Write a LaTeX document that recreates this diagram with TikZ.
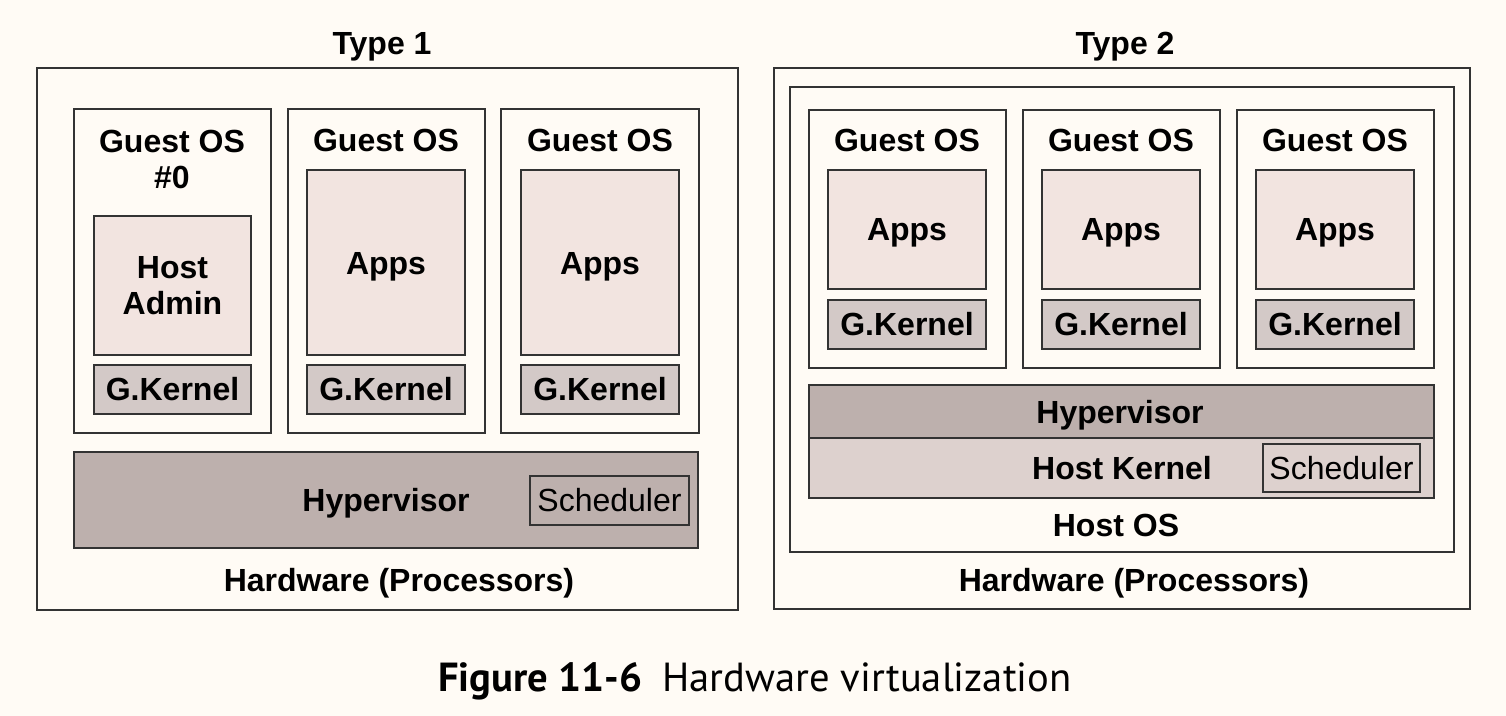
\documentclass[tikz,border=0pt]{standalone}
\usepackage{fontspec}
\setmainfont{Liberation Sans}
\newfontfamily\capfont{PT Sans}
\usetikzlibrary{fit}
\definecolor{bg}{HTML}{FFFBF5}
\definecolor{appfill}{HTML}{F2E4E0}
\definecolor{gkfill}{HTML}{D3C9C7}
\definecolor{hypfill}{HTML}{BDB0AD}
\definecolor{hkfill}{HTML}{DDD1CE}
\definecolor{edge}{HTML}{333333}
\tikzset{
  frame/.style={draw=edge, line width=1.1pt, inner sep=0pt},
  whitebox/.style={frame, fill=bg},
  appbox/.style={frame, fill=appfill},
  gkbox/.style={frame, fill=gkfill},
  hypbox/.style={frame, fill=hypfill},
  hkbox/.style={frame, fill=hkfill},
  lbl/.style={font=\fontsize{16}{19}\selectfont\bfseries, text=black, align=center, inner sep=0pt},
  one/.style={text height=11.5pt, text depth=0pt},
  lblr/.style={font=\fontsize{16}{19}\selectfont, text=black, inner sep=0pt, text height=11.5pt, text depth=0pt},
}
\begin{document}
\begin{tikzpicture}[x=0.5pt,y=-0.5pt]
\fill[bg] (0,0) rectangle (1506,716);
\useasboundingbox (0,0) rectangle (1506,716);

% ---------- Type 1 ----------
\node[lbl, one] (t1) at (382,43) {Type 1};
\node[whitebox, fit={(37,68) (738,610)}] (hw1) {};
\node[whitebox, fit={(74,109) (271,433)}] (g10) {};
\node[whitebox, fit={(288,109) (485,433)}] (g11) {};
\node[whitebox, fit={(501,109) (699,433)}] (g12) {};
\node[lbl] (g10t) at (172,159) {Guest OS\\[-1pt]\#0};
\node[lbl, one] (g11t) at (386,140) {Guest OS};
\node[lbl, one] (g12t) at (600,140) {Guest OS};
\node[appbox, fit={(94,216) (251,355)}] (ha) {};
\node[lbl] at (ha.center) (hat) {Host\\[-1pt]Admin};
\node[appbox, fit={(307,170) (465,355)}] (a11) {};
\node[lbl, one] (a11t) at (386,263) {Apps};
\node[appbox, fit={(521,170) (679,355)}] (a12) {};
\node[lbl, one] (a12t) at (600,263) {Apps};
\node[gkbox, fit={(94,365) (251,414)}] (k10) {};
\node[lbl, one] at (k10.center) (k10t) {G.Kernel};
\node[gkbox, fit={(307,365) (465,414)}] (k11) {};
\node[lbl, one] at (k11.center) (k11t) {G.Kernel};
\node[gkbox, fit={(521,365) (679,414)}] (k12) {};
\node[lbl, one] at (k12.center) (k12t) {G.Kernel};
\node[hypbox, fit={(74,452) (698,548)}] (hyp1) {};
\node[lbl, one] (hyp1t) at (386,500) {Hypervisor};
\node[frame, fit={(530,476) (689,525)}] (s1) {};
\node[lblr] at (s1.center) (s1t) {Scheduler};
\node[lbl, one] (hw1t) at (399,580) {Hardware (Processors)};

% ---------- Type 2 ----------
\node[lbl, one] (t2) at (1125,43) {Type 2};
\node[whitebox, fit={(774,68) (1470,609)}] (hw2) {};
\node[whitebox, fit={(790,87) (1454,552)}] (hos) {};
\node[whitebox, fit={(809,110) (1006,368)}] (g20) {};
\node[whitebox, fit={(1023,110) (1220,368)}] (g21) {};
\node[whitebox, fit={(1237,110) (1434,368)}] (g22) {};
\node[lbl, one] (g20t) at (907,140) {Guest OS};
\node[lbl, one] (g21t) at (1121,140) {Guest OS};
\node[lbl, one] (g22t) at (1335,140) {Guest OS};
\node[appbox, fit={(828,170) (986,289)}] (a20) {};
\node[lbl, one] at (a20.center) (a20t) {Apps};
\node[appbox, fit={(1042,170) (1200,289)}] (a21) {};
\node[lbl, one] at (a21.center) (a21t) {Apps};
\node[appbox, fit={(1256,170) (1414,289)}] (a22) {};
\node[lbl, one] at (a22.center) (a22t) {Apps};
\node[gkbox, fit={(828,300) (986,349)}] (k20) {};
\node[lbl, one] at (k20.center) (k20t) {G.Kernel};
\node[gkbox, fit={(1042,300) (1200,349)}] (k21) {};
\node[lbl, one] at (k21.center) (k21t) {G.Kernel};
\node[gkbox, fit={(1256,300) (1414,349)}] (k22) {};
\node[lbl, one] at (k22.center) (k22t) {G.Kernel};
\node[hkbox, fit={(809,438) (1434,498)}] (hk) {};
\node[hypbox, fit={(809,385) (1434,438)}] (hyp2) {};
\node[lbl, one] (hyp2t) at (1120,412) {Hypervisor};
\node[lbl, one] (hkt) at (1122,468) {Host Kernel};
\node[frame, fit={(1263,444) (1420,492)}] (s2) {};
\node[lblr] at (s2.center) (s2t) {Scheduler};
\node[lbl, one] (host) at (1116,525) {Host OS};
\node[lbl, one] (hw2t) at (1134,580) {Hardware (Processors)};

% ---------- Caption ----------
\node[font=\capfont\fontsize{20.3}{24}\selectfont, text=black, inner sep=0pt, text height=14.5pt, text depth=0pt] (cap) at (755,677) {\textbf{Figure 11-6}\hspace{0.5em}Hardware virtualization};
\end{tikzpicture}
\end{document}
